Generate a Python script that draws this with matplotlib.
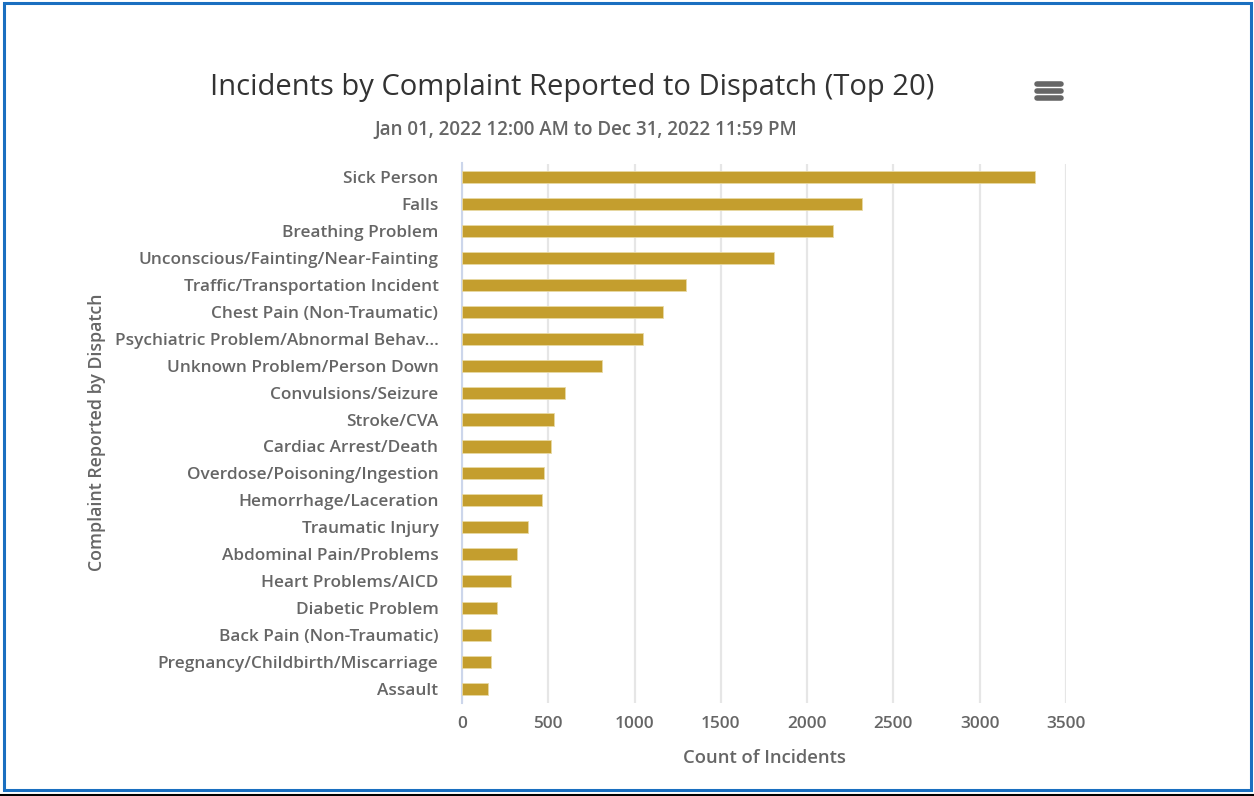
import matplotlib.pyplot as plt
from matplotlib.patches import Rectangle

# top 20 complaints
complaints = [
    "Sick Person", "Falls", "Breathing Problem",
    "Unconscious/Fainting/Near-Fainting", "Traffic/Transportation Incident",
    "Chest Pain (Non-Traumatic)", "Psychiatric Problem/Abnormal Behav...",
    "Unknown Problem/Person Down", "Convulsions/Seizure", "Stroke/CVA",
    "Cardiac Arrest/Death", "Overdose/Poisoning/Ingestion",
    "Hemorrhage/Laceration", "Traumatic Injury", "Abdominal Pain/Problems",
    "Heart Problems/AICD", "Diabetic Problem", "Back Pain (Non-Traumatic)",
    "Pregnancy/Childbirth/Miscarriage", "Assault",
]
counts = [3318, 2318, 2148, 1810, 1299, 1165, 1047, 813, 594, 532,
          514, 478, 461, 381, 320, 285, 204, 169, 169, 152]
xticks = [0, 500, 1000, 1500, 2000, 2500, 3000, 3500]

plt.rcParams['font.family'] = ['Open Sans', 'DejaVu Sans']

W, H = 1254, 796
fig = plt.figure(figsize=(W / 100, H / 100), dpi=100)

# frame around the whole chart
fig.patches.append(Rectangle((4 / W, 6 / H), 1247 / W, 787 / H, transform=fig.transFigure,
                             fill=False, edgecolor='#1a6fc0', linewidth=2.2))
fig.add_artist(plt.Line2D([0, 1], [1.5 / H, 1.5 / H], color='black', linewidth=1.5))

ax = fig.add_axes([462 / W, 1 - 702.5 / H, 604 / W, 539 / H])
ypos = list(range(len(complaints)))
ax.barh(ypos, counts, height=0.45, color='#c49e2e', edgecolor='#e8d9a4',
        linewidth=0.6, zorder=3)
ax.set_ylim(len(complaints) - 0.5, -0.5)
ax.set_xlim(0, 3500)
ax.set_xticks(xticks)
ax.set_yticks(ypos)
ax.set_yticklabels(complaints)
ax.grid(axis='x', color='#e6e6e6', linewidth=1.6, zorder=0)
ax.tick_params(axis='both', length=0, labelsize=12.4, labelcolor='#666666')
ax.tick_params(axis='y', pad=17)
ax.tick_params(axis='x', pad=10)
for lab in ax.get_xticklabels() + ax.get_yticklabels():
    lab.set_fontweight('semibold')
for s in ['top', 'right', 'bottom']:
    ax.spines[s].set_visible(False)
ax.spines['left'].set_color('#ccd6eb')
ax.spines['left'].set_linewidth(1.5)

ax.set_xlabel('Count of Incidents', fontsize=13.3, color='#666666', labelpad=12,
              fontweight='semibold')
fig.text(97 / W, 1 - 432 / H, 'Complaint Reported by Dispatch', rotation=90,
         ha='center', va='center', fontsize=12.8, color='#666666', fontweight='semibold')

fig.text(572 / W, 1 - 87 / H, 'Incidents by Complaint Reported to Dispatch (Top 20)',
         ha='center', va='center', fontsize=21, color='#333333', fontweight='medium')
fig.text(586 / W, 1 - 130 / H, 'Jan 01, 2022 12:00 AM to Dec 31, 2022 11:59 PM',
         ha='center', va='center', fontsize=13.5, color='#666666', fontweight='semibold')

# hamburger menu icon
for yy in [84, 91, 98]:
    fig.add_artist(plt.Line2D([1037 / W, 1061 / W], [1 - yy / H, 1 - yy / H],
                              color='#666666', linewidth=4, solid_capstyle='round'))

fig.savefig('out.png', dpi=100)
